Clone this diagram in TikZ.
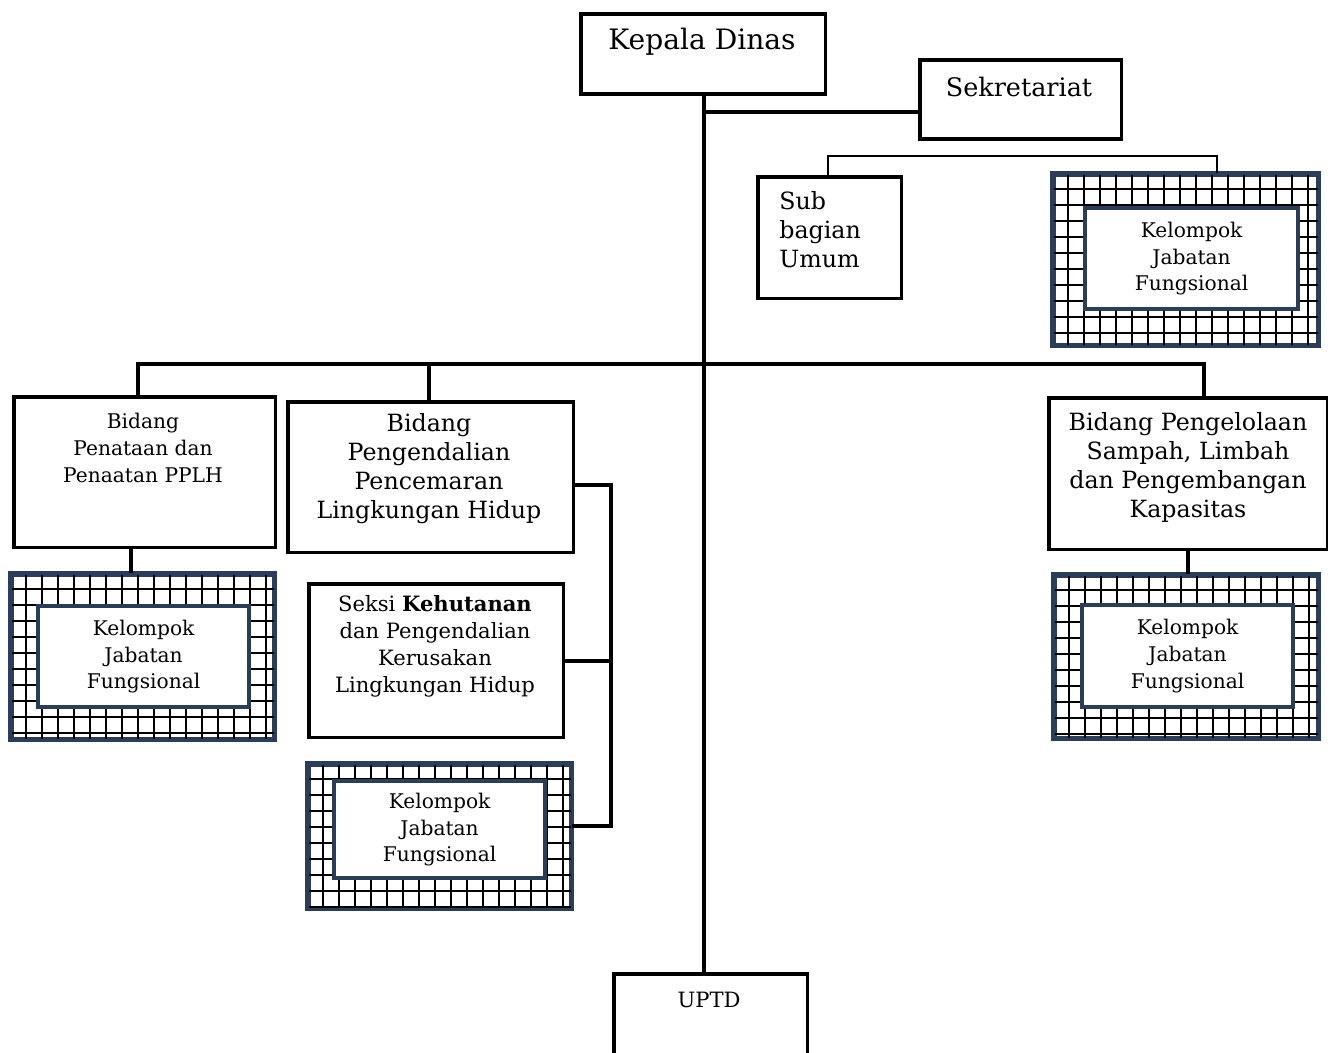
\documentclass[tikz,border=0pt]{standalone}
\usepackage{fontspec}
\setmainfont{DejaVu Serif}
\usetikzlibrary{positioning}
\definecolor{gridblue}{RGB}{42,62,92}
\tikzset{
  box/.style = {draw, line width=2pt, fill=white, inner sep=0, anchor=north west},
  link/.style = {line width=2pt},
  thinlink/.style = {line width=1.3pt},
  gridbox/.style = {draw=gridblue, line width=2pt, fill=white, inner sep=0, anchor=north west},
  gridline/.style = {line width=1.1pt},
  innerbox/.style = {draw=gridblue, line width=2.4pt, fill=white, inner sep=0, anchor=north west,
    align=center, font=\fontsize{11.5}{15.3}\selectfont},
  bigtxt/.style = {inner sep=0, font=\fontsize{16}{19}\selectfont},
  midtxt/.style = {inner sep=0, align=center, font=\fontsize{13.5}{16.5}\selectfont},
  smalltxt/.style = {inner sep=0, align=center, font=\fontsize{12}{15.3}\selectfont}
}

\begin{document}
\begin{tikzpicture}[x=0.02cm, y=-0.02cm]
  \clip (0,0) rectangle (1328,1052);
  \fill[white] (0,0) rectangle (1328,1052);

  % top part
  \node [box, minimum width=4.90cm, minimum height=1.60cm] (kepala) at (579,12) {};
  \node [box, minimum width=4.04cm, minimum height=1.58cm] (sekr) at (918,58) {};
  \node [box, minimum width=2.88cm, minimum height=2.44cm] (sub) at (756,175) {};
  \node [gridbox, minimum width=5.28cm, minimum height=3.40cm] (g1) at (1052,173) {};

  % bidang
  \node [box, minimum width=5.24cm, minimum height=3.02cm] (penataan) at (12,395) {};
  \node [box, minimum width=5.72cm, minimum height=3.02cm] (pengendalian) at (286,400) {};
  \node [box, minimum width=5.10cm, minimum height=3.08cm] (seksi) at (307,582) {};
  \node [box, minimum width=5.58cm, minimum height=3.04cm] (pengelolaan) at (1047,396) {};
  \node [gridbox, minimum width=5.24cm, minimum height=3.28cm] (g2) at (10,573) {};
  \node [gridbox, minimum width=5.24cm, minimum height=2.86cm] (g3) at (307,763) {};
  \node [gridbox, minimum width=5.26cm, minimum height=3.24cm] (g4) at (1053,574) {};
  \node [box, minimum width=3.88cm, minimum height=2.00cm] (uptd) at (612,972) {};

  % grid fill
  \foreach \g in {g1,g2,g3,g4} {
    \begin{scope}
      \clip (\g.south west) rectangle (\g.north east);
      \foreach \i in {1,...,17} {
        \draw [gridline] ([xshift=\i*0.32cm]\g.north west) -- ([xshift=\i*0.32cm]\g.south west);
      }
      \foreach \j in {1,...,11} {
        \draw [gridline] ([yshift=-\j*0.32cm]\g.north west) -- ([yshift=-\j*0.32cm]\g.north east);
      }
    \end{scope}
    \draw [draw=gridblue, line width=2pt] (\g.south west) rectangle (\g.north east);
  }
  \node [innerbox, minimum width=4.26cm, minimum height=2.02cm] (k1) at (1083,206) {Kelompok\\Jabatan\\Fungsional};
  \node [innerbox, minimum width=4.22cm, minimum height=2.02cm] (k2) at (36,604) {Kelompok\\Jabatan\\Fungsional};
  \node [innerbox, minimum width=4.22cm, minimum height=1.94cm] (k3) at (332,779) {Kelompok\\Jabatan\\Fungsional};
  \node [innerbox, minimum width=4.22cm, minimum height=2.04cm] (k4) at (1080,603) {Kelompok\\Jabatan\\Fungsional};

  % texts
  \node [bigtxt] (kepala-t) at (702,42) {Kepala Dinas};
  \node [bigtxt, font=\fontsize{14.5}{17}\selectfont] (sekr-t) at (1019,87) {Sekretariat};
  \node [midtxt, align=left, anchor=west] (sub-t) at (779,230) {Sub\\bagian\\Umum};
  \node [smalltxt, font=\fontsize{11.5}{15.3}\selectfont] (penataan-t) at (143,448) {Bidang\\Penataan dan\\Penaatan PPLH};
  \node [midtxt] (pengendalian-t) at (429,469) {Bidang\\Pengendalian\\Pencemaran\\Lingkungan Hidup};
  \node [smalltxt] (seksi-t) at (435,646) {Seksi \textbf{Kehutanan}\\dan Pengendalian\\Kerusakan\\Lingkungan Hidup};
  \node [midtxt] (pengelolaan-t) at (1188,467) {Bidang Pengelolaan\\Sampah, Limbah\\dan Pengembangan\\Kapasitas};
  \node [smalltxt] (uptd-t) at (709,1000) {UPTD};

  % connectors
  \coordinate (trunk) at (704,0);
  \coordinate (sekrjoin) at (706,112);
  \coordinate (subL) at (828,156);
  \coordinate (subR) at (1217,156);
  \coordinate (barL) at (138,364);
  \coordinate (barM) at (429,364);
  \coordinate (barR) at (1204,364);
  \coordinate (drop2) at (131,0);
  \coordinate (brkT) at (611,485);
  \coordinate (brkB) at (611,826);
  \draw [link] (kepala.south -| trunk) -- (uptd.north -| trunk);
  \draw [link] (sekrjoin) -- (sekrjoin -| sekr.west);
  \draw [thinlink] (sub.north -| subL) -- (subL) -- (subR) -- (subR |- g1.north);
  \draw [link] (barL |- penataan.north) -- (barL) -- (barR) -- (barR |- pengelolaan.north);
  \draw [link] (barM) -- (barM |- pengendalian.north);
  \draw [link] (drop2 |- penataan.south) -- (drop2 |- g2.north);
  \draw [link] (pengelolaan.south) -- (pengelolaan.south |- g4.north);
  \draw [link] (brkT -| pengendalian.east) -- (brkT) -- (brkB) -- (brkB -| g3.east);
  \draw [link] (seksi.east) -- (seksi.east -| brkT);
\end{tikzpicture}
\end{document}
